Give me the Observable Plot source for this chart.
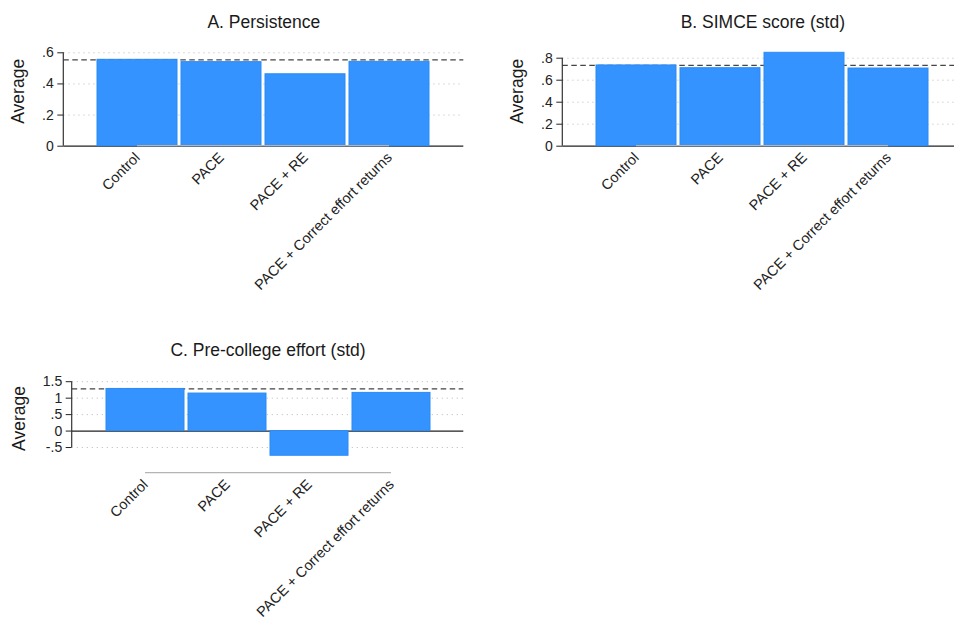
<!DOCTYPE html>
<html><head><meta charset="utf-8">
<script src="https://cdn.jsdelivr.net/npm/d3@7"></script>
<script src="https://cdn.jsdelivr.net/npm/@observablehq/plot@0.6"></script>
<style>
body{margin:0;background:#fff;}
#wrap{position:relative;width:954px;height:619px;overflow:hidden;background:#fff;}
#wrap svg{position:absolute;overflow:visible;}
</style></head><body><div id="wrap"></div>
<script>
// ---- data ----
const categories = ["Control", "PACE", "PACE + RE", "PACE + Correct effort returns"];
const persistence = [0.555, 0.540, 0.462, 0.542];
const simce = [0.734, 0.709, 0.849, 0.706];
const effort = [1.28, 1.14, -0.75, 1.16];
const titles = ["A. Persistence", "B. SIMCE score (std)", "C. Pre-college effort (std)"];
const ticksA = [0, 0.2, 0.4, 0.6];
const ticksB = [0, 0.2, 0.4, 0.6, 0.8];
const ticksC = [-0.5, 0, 0.5, 1, 1.5];
const yLabel = "Average";

const FONT = '"Liberation Sans", Arial, sans-serif';
const fmt = d => d === 0 ? "0" : String(d).replace(/^(-?)0\./, "$1.");

function panel(cfg) {
  const {title, values, ticks, yDomain, left, top, width, height,
         mTop, mBottom, mLeft, mRight, xRange, titleDy, labDx, labDy} = cfg;
  const data = categories.map((c, i) => ({cat: c, v: values[i]}));
  const plot = Plot.plot({
    width, height,
    marginTop: mTop, marginBottom: mBottom, marginLeft: mLeft, marginRight: mRight,
    style: {fontFamily: FONT, fontSize: "14px", color: "#222", background: "transparent"},
    x: {domain: categories, range: xRange, paddingInner: 0.05, paddingOuter: 0, label: null, axis: null},
    y: {domain: yDomain, label: null, axis: null},
    marks: [
      Plot.ruleY(ticks.filter(t => t !== 0), {stroke: "#c8c8c8", strokeDasharray: "1.3,3.7", strokeWidth: 1}),
      Plot.ruleY([0], {stroke: "#222", strokeWidth: 1.3}),
      Plot.ruleY([values[0]], {stroke: "#444", strokeDasharray: "5.5,3.5", strokeWidth: 1.2}),
      Plot.barY(data, {x: "cat", y: "v", fill: "#3593ff", stroke: "#2b8bf4", strokeWidth: 1}),
      Plot.axisY({ticks, tickFormat: fmt, tickSize: 6, tickPadding: 4, fontSize: 14, label: null}),
      Plot.axisX({tickRotate: -45, tickSize: 0, tickPadding: 9, fontSize: 14.4, label: null}),
      Plot.text([title], {text: d => d, frameAnchor: "top", lineAnchor: "bottom", dy: titleDy, fontSize: 17.5, fill: "#1a1a1a"}),
      Plot.text([yLabel], {text: d => d, frameAnchor: "left", rotate: -90, textAnchor: "middle", lineAnchor: "middle", dx: labDx, dy: labDy, fontSize: 17.5, fill: "#1a1a1a"})
    ]
  });
  plot.style.left = left + "px";
  plot.style.top = top + "px";
  // axis lines drawn from the plot's own scales
  const xs = plot.scale("x"), ys = plot.scale("y");
  const svg = d3.select(plot);
  const bw = xs.bandwidth || 0;
  const cx0 = xs.apply(categories[0]) + bw / 2;
  const cx1 = xs.apply(categories[categories.length - 1]) + bw / 2;
  svg.append("line")
    .attr("x1", cx0).attr("x2", cx1)
    .attr("y1", ys.apply(yDomain[0])).attr("y2", ys.apply(yDomain[0]))
    .attr("stroke", "#b4b4b4").attr("stroke-width", 1.3);
  svg.append("line")
    .attr("x1", mLeft).attr("x2", mLeft)
    .attr("y1", ys.apply(ticks[0])).attr("y2", ys.apply(ticks[ticks.length - 1]))
    .attr("stroke", "#333").attr("stroke-width", 1.2);
  document.getElementById("wrap").appendChild(plot);
}

panel({title: titles[0], values: persistence, ticks: ticksA, yDomain: [0, 0.6],
  left: 0, top: 0, width: 477, height: 310, mTop: 52.3, mBottom: 164.3, mLeft: 63.3, mRight: 13.7,
  xRange: [97.3, 429.3], titleDy: -24.6, labDx: -45.3, labDy: -8.2});
panel({title: titles[1], values: simce, ticks: ticksB, yDomain: [0, 0.849],
  left: 499, top: 0, width: 477, height: 310, mTop: 52.3, mBottom: 164.3, mLeft: 63.3, mRight: 13.7,
  xRange: [97.3, 429.3], titleDy: -24.6, labDx: -45, labDy: -8.2});
panel({title: titles[2], values: effort, ticks: ticksC, yDomain: [-1.28, 1.5],
  left: 0, top: 330, width: 477, height: 289, mTop: 51.2, mBottom: 146.3, mLeft: 71.7, mRight: 13.7,
  xRange: [105.3, 430], titleDy: -26.2, labDx: -52.9, labDy: -9});
</script></body></html>
